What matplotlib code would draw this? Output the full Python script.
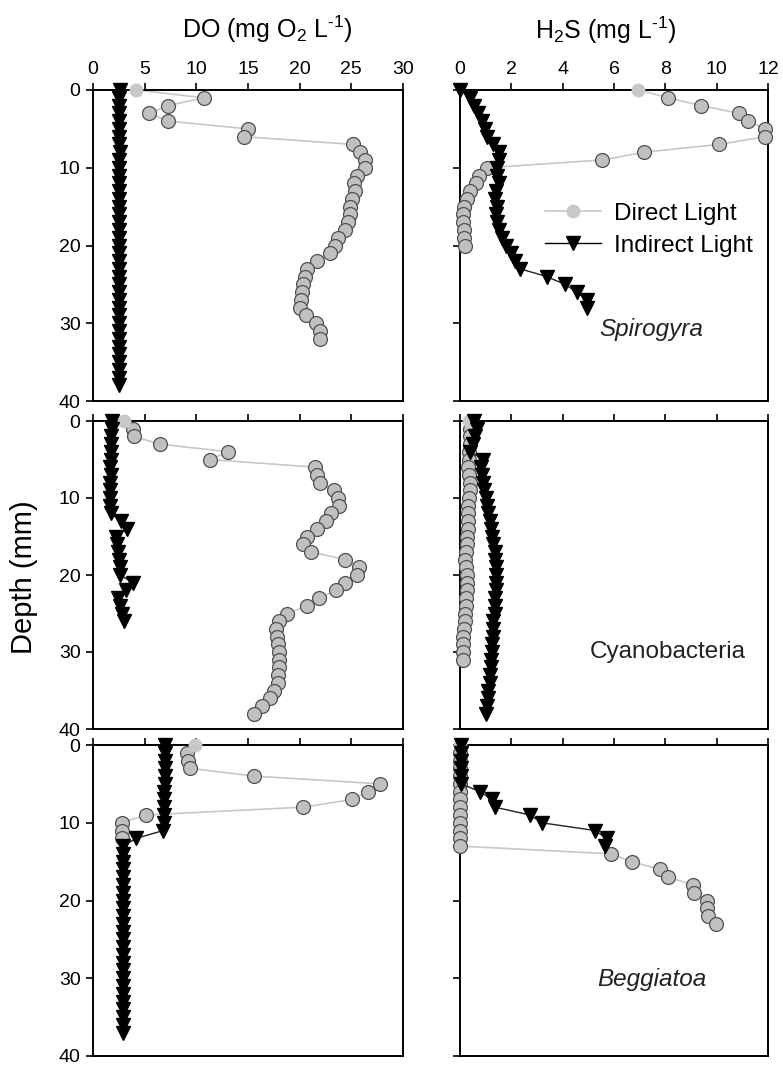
import numpy as np
import matplotlib
matplotlib.use("Agg")
import matplotlib.pyplot as plt
from matplotlib.lines import Line2D

plt.rcParams['font.family'] = ['Liberation Sans', 'DejaVu Sans']
plt.rcParams['mathtext.fontset'] = 'custom'
plt.rcParams['mathtext.rm'] = 'Liberation Sans'
plt.rcParams['mathtext.it'] = 'Liberation Sans:italic'
plt.rcParams['mathtext.default'] = 'regular'

# ---------------- data (depth in mm, 1 mm steps starting at 0) ----------------
spi_do_direct = [4.2, 10.7, 7.3, 5.4, 7.3, 15.0, 14.6, 25.2, 25.8, 26.3, 26.3, 25.5,
                 25.3, 25.4, 25.1, 24.9, 24.9, 24.7, 24.4, 23.7, 23.4, 22.9, 21.7,
                 20.7, 20.5, 20.3, 20.2, 20.1, 20.0, 20.6, 21.6, 22.0, 22.0]
spi_do_indirect = [2.6, 2.5, 2.5, 2.5, 2.5, 2.5, 2.5, 2.5, 2.6, 2.5, 2.5, 2.5, 2.5,
                   2.5, 2.5, 2.5, 2.5, 2.5, 2.5, 2.5, 2.5, 2.5, 2.5, 2.5, 2.5, 2.5,
                   2.5, 2.5, 2.5, 2.5, 2.5, 2.5, 2.5, 2.5, 2.5, 2.5, 2.5, 2.5, 2.5]
spi_h2s_direct = [6.95, 8.12, 9.38, 10.88, 11.23, 11.88, 11.88, 10.1, 7.17, 5.55,
                  1.05, 0.73, 0.63, 0.39, 0.26, 0.15, 0.13, 0.13, 0.15, 0.17, 0.19]
spi_h2s_indirect = [0.0, 0.4, 0.55, 0.7, 0.85, 0.97, 1.05, 1.3, 1.5, 1.5, 1.45, 1.45,
                    1.5, 1.4, 1.35, 1.45, 1.4, 1.45, 1.5, 1.65, 1.8, 2.0, 2.15, 2.35,
                    3.38, 4.09, 4.55, 4.94, 4.94]

cya_do_direct = [3.0, 3.85, 3.95, 6.5, 13.1, 11.3, 21.5, 21.7, 22.0, 23.3, 23.7, 23.8,
                 23.0, 22.5, 21.65, 20.7, 20.3, 21.1, 24.4, 25.7, 25.5, 24.4, 23.5,
                 21.9, 20.7, 18.8, 18.0, 17.7, 17.8, 17.9, 18.0, 18.0, 18.0, 17.9,
                 17.9, 17.5, 17.1, 16.4, 15.6]
cya_do_indirect = [1.8, 1.8, 1.7, 1.7, 1.7, 1.7, 1.6, 1.7, 1.6, 1.6, 1.6, 1.6, 1.7,
                   2.7, 3.3, 2.2, 2.3, 2.4, 2.5, 2.6, 2.6, 3.9, 3.2, 2.4, 2.6, 2.8, 3.0]
cya_h2s_direct = [0.36, 0.4, 0.38, 0.38, 0.36, 0.35, 0.32, 0.36, 0.39, 0.39, 0.36,
                  0.32, 0.32, 0.32, 0.3, 0.26, 0.26, 0.23, 0.19, 0.23, 0.26, 0.26,
                  0.26, 0.23, 0.23, 0.19, 0.19, 0.16, 0.13, 0.13, 0.13, 0.13]
cya_h2s_indirect = [0.55, 0.65, 0.6, 0.5, 0.4, 0.9, 0.8, 0.85, 0.9, 0.95, 1.0, 1.05,
                    1.1, 1.15, 1.2, 1.25, 1.3, 1.35, 1.35, 1.4, 1.4, 1.4, 1.4, 1.35,
                    1.35, 1.35, 1.3, 1.3, 1.3, 1.25, 1.25, 1.2, 1.2, 1.15, 1.15, 1.1,
                    1.1, 1.05, 1.0]

beg_do_direct = [9.9, 9.1, 9.2, 9.4, 15.6, 27.8, 26.6, 25.1, 20.3, 5.1, 2.8, 2.8, 2.8]
beg_do_indirect = [7.0, 7.0, 7.0, 7.0, 7.0, 7.0, 6.9, 6.9, 6.9, 6.9, 6.9, 6.8, 4.2,
                   2.9, 2.9, 2.9, 2.9, 2.9, 2.9, 2.9, 2.9, 2.9, 2.9, 2.9, 2.9, 2.9,
                   2.9, 2.9, 2.9, 2.9, 2.9, 2.9, 2.9, 2.9, 2.9, 2.9, 2.9, 2.9]
beg_h2s_direct = [0.0, 0.0, 0.0, 0.0, 0.0, 0.0, 0.0, 0.0, 0.0, 0.0, 0.0, 0.0, 0.0, 0.0,
                  5.87, 6.69, 7.79, 8.12, 9.09, 9.12, 9.61, 9.63, 9.67, 9.97]
beg_h2s_indirect = [0.05, 0.05, 0.05, 0.05, 0.05, 0.05, 0.78, 1.23, 1.36, 2.73, 3.18,
                    5.26, 5.71, 5.65]

depth_step = 1.0  # mm

do_ticks = [0, 5, 10, 15, 20, 25, 30]
h2s_ticks = [0, 2, 4, 6, 8, 10, 12]
depth_ticks = [0, 10, 20, 30, 40]

panel_names = ["Spirogyra", "Cyanobacteria", "Beggiatoa"]
panel_italic = [True, False, True]
series = [
    (spi_do_direct, spi_do_indirect, spi_h2s_direct, spi_h2s_indirect),
    (cya_do_direct, cya_do_indirect, cya_h2s_direct, cya_h2s_indirect),
    (beg_do_direct, beg_do_indirect, beg_h2s_direct, beg_h2s_indirect),
]

# ---------------- styling ----------------
LIGHT = '#c8c8c8'
FACE = '#c0c0c0'
EDGE = '#505050'
MS = 10
FS = 14
LFS = 17.5

fig = plt.figure(figsize=(7.83, 10.65), dpi=100)

W, H = 783, 1065
col_x = [(93, 403), (460, 768)]
row_y = [(90, 401), (421, 729), (745, 1056)]


def depths(vals):
    return np.arange(len(vals)) * depth_step


def draw_direct(ax, vals):
    d = depths(vals)
    ax.plot(vals, d, color=LIGHT, lw=1.2, zorder=2, clip_on=False)
    ax.plot(vals[1:], d[1:], ls='none', marker='o', ms=MS, mfc=FACE, mec=EDGE,
            mew=0.9, zorder=3, clip_on=False)
    ax.plot(vals[:1], d[:1], ls='none', marker='o', ms=MS, mfc=LIGHT, mec='none',
            zorder=3, clip_on=False)


def draw_indirect(ax, vals):
    d = depths(vals)
    ax.plot(vals, d, color='#222222', lw=1.0, marker='v', ms=MS, mfc='black',
            mec='black', zorder=4, clip_on=False)


axes = []
for r in range(3):
    for c in range(2):
        x0, x1 = col_x[c]
        y0, y1 = row_y[r]
        ax = fig.add_axes([x0 / W, 1 - y1 / H, (x1 - x0) / W, (y1 - y0) / H])
        do_dir, do_ind, h_dir, h_ind = series[r]
        if c == 0:
            draw_direct(ax, do_dir)
            draw_indirect(ax, do_ind)
            ax.set_xlim(0, 30)
            ax.set_xticks(do_ticks)
        else:
            draw_direct(ax, h_dir)
            draw_indirect(ax, h_ind)
            ax.set_xlim(0, 12)
            ax.set_xticks(h2s_ticks)
        ax.set_ylim(40, 0)
        ax.set_yticks(depth_ticks)
        ax.xaxis.set_ticks_position('top')
        ax.tick_params(axis='x', direction='out', length=5, width=1.2,
                       labelsize=FS, labeltop=(r == 0), labelbottom=False, pad=4)
        ax.tick_params(axis='y', direction='out', length=5, width=1.2,
                       labelsize=FS, labelleft=(c == 0), pad=4)
        for s in ax.spines.values():
            s.set_linewidth(1.4)
        axes.append(ax)

# panel labels
label_pos = [(7.47, 30.8), (8.1, 30.0), (7.47, 30.2)]
for r in range(3):
    ax = axes[r * 2 + 1]
    ax.text(label_pos[r][0], label_pos[r][1], panel_names[r], fontsize=LFS,
            style='italic' if panel_italic[r] else 'normal',
            ha='center', va='center', color='#222222')

# legend
handles = [Line2D([], [], color=LIGHT, lw=1.2, marker='o', ms=MS, mfc=LIGHT, mec='none'),
           Line2D([], [], color='black', lw=1.0, marker='v', ms=MS, mfc='black', mec='black')]
axes[1].legend(handles, ['Direct Light', 'Indirect Light'], loc='upper left',
               bbox_to_anchor=(0.276, 0.637), frameon=False, fontsize=LFS,
               handlelength=2.3, handletextpad=0.55, labelspacing=0.41,
               borderpad=0, borderaxespad=0)

fig.text(267 / W, 1 - 29 / H, r'DO (mg O$_2$ L$^{\text{-1}}$)', fontsize=18,
         ha='center', va='center')
fig.text(606 / W, 1 - 30 / H, r'H$_2$S (mg L$^{\text{-1}}$)', fontsize=18,
         ha='center', va='center')
fig.text(24 / W, 1 - 577 / H, 'Depth (mm)', fontsize=21, rotation=90,
         ha='center', va='center')

fig.savefig('out.png', dpi=100)
